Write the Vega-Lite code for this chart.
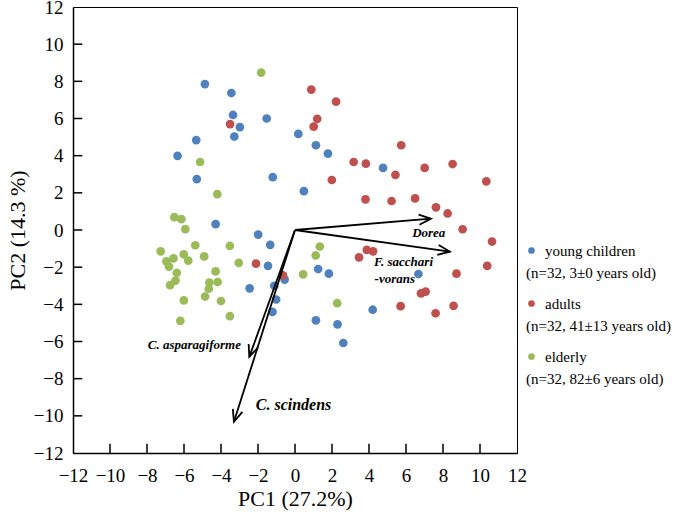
{
  "$schema": "https://vega.github.io/schema/vega-lite/v6.json",
  "width": 444,
  "height": 446,
  "autosize": "none",
  "padding": {"left": 73, "top": 7, "right": 160, "bottom": 68},
  "background": "white",
  "config": {
    "font": "Liberation Serif",
    "view": {"stroke": "black", "strokeWidth": 1},
    "axis": {
      "domainColor": "black", "domainWidth": 1.5,
      "labelFont": "Liberation Serif", "labelFontSize": 19, "labelColor": "black",
      "titleFont": "Liberation Serif", "titleFontSize": 22, "titleFontWeight": "normal", "titleColor": "black",
      "grid": false
    }
  },
  "resolve": {"axis": {"x": "independent", "y": "independent"}},
  "datasets": {
    "scores": [
      {"group": "young children", "pc1": -4.87, "pc2": 7.85},
      {"group": "young children", "pc1": -3.44, "pc2": 7.37},
      {"group": "young children", "pc1": -3.35, "pc2": 6.19},
      {"group": "young children", "pc1": -2.98, "pc2": 5.54},
      {"group": "young children", "pc1": -1.53, "pc2": 6.0},
      {"group": "young children", "pc1": -3.28, "pc2": 5.03},
      {"group": "young children", "pc1": -5.34, "pc2": 4.84},
      {"group": "young children", "pc1": 0.18, "pc2": 5.17},
      {"group": "young children", "pc1": 1.13, "pc2": 4.56},
      {"group": "young children", "pc1": 1.78, "pc2": 4.11},
      {"group": "young children", "pc1": -6.35, "pc2": 3.99},
      {"group": "young children", "pc1": -5.31, "pc2": 2.74},
      {"group": "young children", "pc1": -1.2, "pc2": 2.84},
      {"group": "young children", "pc1": 0.48, "pc2": 2.09},
      {"group": "young children", "pc1": -4.29, "pc2": 0.32},
      {"group": "young children", "pc1": 4.76, "pc2": 3.34},
      {"group": "young children", "pc1": -1.99, "pc2": -0.25},
      {"group": "young children", "pc1": -1.34, "pc2": -0.8},
      {"group": "young children", "pc1": -1.46, "pc2": -1.93},
      {"group": "young children", "pc1": 1.25, "pc2": -2.1},
      {"group": "young children", "pc1": 1.83, "pc2": -2.35},
      {"group": "young children", "pc1": -0.56, "pc2": -2.67},
      {"group": "young children", "pc1": -1.12, "pc2": -3.0},
      {"group": "young children", "pc1": -2.45, "pc2": -3.14},
      {"group": "young children", "pc1": -1.02, "pc2": -3.74},
      {"group": "young children", "pc1": -1.22, "pc2": -4.41},
      {"group": "young children", "pc1": 1.13, "pc2": -4.86},
      {"group": "young children", "pc1": 2.3, "pc2": -5.08},
      {"group": "young children", "pc1": 2.61, "pc2": -6.08},
      {"group": "young children", "pc1": 4.2, "pc2": -4.29},
      {"group": "young children", "pc1": 6.67, "pc2": -2.37},
      {"group": "adults", "pc1": 0.88, "pc2": 7.55},
      {"group": "adults", "pc1": 2.22, "pc2": 6.91},
      {"group": "adults", "pc1": -3.51, "pc2": 5.7},
      {"group": "adults", "pc1": 1.2, "pc2": 5.98},
      {"group": "adults", "pc1": 1.01, "pc2": 5.56},
      {"group": "adults", "pc1": 1.99, "pc2": 2.69},
      {"group": "adults", "pc1": 5.74, "pc2": 4.56},
      {"group": "adults", "pc1": 3.17, "pc2": 3.66},
      {"group": "adults", "pc1": 3.83, "pc2": 3.57},
      {"group": "adults", "pc1": 5.43, "pc2": 2.97},
      {"group": "adults", "pc1": 7.01, "pc2": 3.34},
      {"group": "adults", "pc1": 8.52, "pc2": 3.55},
      {"group": "adults", "pc1": 10.34, "pc2": 2.62},
      {"group": "adults", "pc1": 3.81, "pc2": 1.65},
      {"group": "adults", "pc1": 5.22, "pc2": 1.56},
      {"group": "adults", "pc1": 6.49, "pc2": 1.7},
      {"group": "adults", "pc1": 7.62, "pc2": 1.22},
      {"group": "adults", "pc1": 8.25, "pc2": 0.89},
      {"group": "adults", "pc1": 9.06, "pc2": 0.04},
      {"group": "adults", "pc1": 10.65, "pc2": -0.62},
      {"group": "adults", "pc1": -2.11, "pc2": -1.81},
      {"group": "adults", "pc1": -0.65, "pc2": -2.44},
      {"group": "adults", "pc1": 3.46, "pc2": -1.47},
      {"group": "adults", "pc1": 3.88, "pc2": -1.07},
      {"group": "adults", "pc1": 4.22, "pc2": -1.15},
      {"group": "adults", "pc1": 5.71, "pc2": -4.1},
      {"group": "adults", "pc1": 6.81, "pc2": -3.41},
      {"group": "adults", "pc1": 7.06, "pc2": -3.32},
      {"group": "adults", "pc1": 7.6, "pc2": -4.48},
      {"group": "adults", "pc1": 8.57, "pc2": -4.08},
      {"group": "adults", "pc1": 8.73, "pc2": -2.35},
      {"group": "adults", "pc1": 10.39, "pc2": -1.93},
      {"group": "elderly", "pc1": -1.83, "pc2": 8.47},
      {"group": "elderly", "pc1": -5.13, "pc2": 3.66},
      {"group": "elderly", "pc1": -4.2, "pc2": 1.93},
      {"group": "elderly", "pc1": -6.52, "pc2": 0.69},
      {"group": "elderly", "pc1": -6.14, "pc2": 0.58},
      {"group": "elderly", "pc1": -5.93, "pc2": 0.05},
      {"group": "elderly", "pc1": -5.39, "pc2": -0.82},
      {"group": "elderly", "pc1": -3.52, "pc2": -0.86},
      {"group": "elderly", "pc1": 1.34, "pc2": -0.89},
      {"group": "elderly", "pc1": -7.26, "pc2": -1.15},
      {"group": "elderly", "pc1": -6.01, "pc2": -1.31},
      {"group": "elderly", "pc1": -4.91, "pc2": -1.42},
      {"group": "elderly", "pc1": 1.12, "pc2": -1.37},
      {"group": "elderly", "pc1": -6.57, "pc2": -1.53},
      {"group": "elderly", "pc1": -6.95, "pc2": -1.69},
      {"group": "elderly", "pc1": -5.77, "pc2": -1.65},
      {"group": "elderly", "pc1": -6.81, "pc2": -1.97},
      {"group": "elderly", "pc1": -3.04, "pc2": -1.77},
      {"group": "elderly", "pc1": -6.39, "pc2": -2.3},
      {"group": "elderly", "pc1": -4.29, "pc2": -2.23},
      {"group": "elderly", "pc1": 0.44, "pc2": -2.39},
      {"group": "elderly", "pc1": -6.46, "pc2": -2.72},
      {"group": "elderly", "pc1": -4.63, "pc2": -2.83},
      {"group": "elderly", "pc1": -4.18, "pc2": -2.8},
      {"group": "elderly", "pc1": -6.75, "pc2": -2.97},
      {"group": "elderly", "pc1": -4.66, "pc2": -3.16},
      {"group": "elderly", "pc1": -4.86, "pc2": -3.58},
      {"group": "elderly", "pc1": -6.01, "pc2": -3.79},
      {"group": "elderly", "pc1": -4.0, "pc2": -3.82},
      {"group": "elderly", "pc1": 2.28, "pc2": -3.94},
      {"group": "elderly", "pc1": -3.52, "pc2": -4.64},
      {"group": "elderly", "pc1": -6.2, "pc2": -4.89}
    ],
    "cohorts": [
      {"group": "young children", "desc": "(n=32, 3±0 years old)"},
      {"group": "adults", "desc": "(n=32, 41±13 years old)"},
      {"group": "elderly", "desc": "(n=32, 82±6 years old)"}
    ],
    "loadings": [
      {"taxon": "Dorea", "pc1": 7.35, "pc2": 0.61},
      {"taxon": "F. saccharivorans", "pc1": 8.37, "pc2": -1.16},
      {"taxon": "C. scindens", "pc1": -3.3, "pc2": -10.32},
      {"taxon": "C. asparagiforme", "pc1": -2.47, "pc2": -6.83}
    ],
    "tickvals": [
      {"v": -10}, {"v": -8}, {"v": -6}, {"v": -4}, {"v": -2}, {"v": 0},
      {"v": 2}, {"v": 4}, {"v": 6}, {"v": 8}, {"v": 10}
    ]
  },
  "layer": [
    {
      "data": {"name": "scores"},
      "transform": [
        {"lookup": "group", "from": {"data": {"name": "cohorts"}, "key": "group", "fields": ["desc"]}}
      ],
      "mark": {"type": "point", "filled": true, "size": 76, "shape": "circle"},
      "encoding": {
        "x": {"field": "pc1", "type": "quantitative",
              "scale": {"domain": [-12, 12], "nice": false, "zero": false},
              "axis": {"values": [-12, -10, -8, -6, -4, -2, 0, 2, 4, 6, 8, 10, 12], "title": "PC1 (27.2%)",
                       "labelOverlap": false, "labelFlush": false,
                       "ticks": false, "labelPadding": 13, "titlePadding": 3}},
        "y": {"field": "pc2", "type": "quantitative",
              "scale": {"domain": [-12, 12], "nice": false, "zero": false},
              "axis": {"values": [-12, -10, -8, -6, -4, -2, 0, 2, 4, 6, 8, 10, 12], "title": "PC2 (14.3 %)",
                       "labelOverlap": false, "labelFlush": false,
                       "ticks": false, "labelPadding": 10, "titlePadding": 4}},
        "color": {"field": "group", "type": "nominal",
                  "scale": {"domain": ["young children", "adults", "elderly"], "range": ["#4F81BD", "#C0504D", "#9BBB59"]},
                  "legend": {
                    "title": null, "orient": "none", "legendX": 451, "legendY": 236,
                    "symbolType": "circle", "symbolSize": 45, "symbolStrokeWidth": 0, "symbolOpacity": 1,
                    "labelFont": "Liberation Serif", "labelFontSize": 15, "labelColor": "black",
                    "labelLimit": 0, "labelOffset": 6, "rowPadding": 37, "padding": 0
                  }},
        "opacity": {"field": "desc", "type": "nominal",
                  "scale": {"domain": ["(n=32, 3±0 years old)", "(n=32, 41±13 years old)", "(n=32, 82±6 years old)"], "range": [1, 1, 1]},
                  "legend": {
                    "title": null, "orient": "none", "legendX": 438, "legendY": 258,
                    "symbolSize": 0, "symbolFillColor": "white", "symbolStrokeColor": "white", "symbolStrokeWidth": 0,
                    "labelFont": "Liberation Serif", "labelFontSize": 15, "labelColor": "black",
                    "labelLimit": 0, "labelOffset": 0, "rowPadding": 37, "padding": 0
                  }}
      }
    },
    {
      "data": {"name": "tickvals"},
      "mark": {"type": "rule", "color": "black", "strokeWidth": 1.5},
      "encoding": {
        "x": {"field": "v", "type": "quantitative", "axis": null},
        "y": {"datum": -12, "type": "quantitative", "axis": null},
        "y2": {"datum": -11.5}
      }
    },
    {
      "data": {"name": "tickvals"},
      "mark": {"type": "rule", "color": "black", "strokeWidth": 1.5},
      "encoding": {
        "y": {"field": "v", "type": "quantitative", "axis": null},
        "x": {"datum": -12, "type": "quantitative", "axis": null},
        "x2": {"datum": -11.5}
      }
    },
    {
      "data": {"name": "loadings"},
      "mark": {"type": "rule", "color": "black", "strokeWidth": 1.8},
      "encoding": {
        "x": {"field": "pc1", "type": "quantitative", "axis": null},
        "y": {"field": "pc2", "type": "quantitative", "axis": null},
        "x2": {"datum": 0},
        "y2": {"datum": 0}
      }
    },
    {
      "data": {"name": "loadings"},
      "mark": {"type": "point", "shape": "M -0.42 1 L 0 0 L 0.42 1", "filled": false, "size": 576,
               "color": "black", "strokeWidth": 1.8, "opacity": 1,
               "angle": {"expr": "atan2(datum.pc1, datum.pc2) * 180 / PI"}},
      "encoding": {
        "x": {"field": "pc1", "type": "quantitative", "axis": null},
        "y": {"field": "pc2", "type": "quantitative", "axis": null}
      }
    },
    {
      "data": {"values": [
        {"label": "Dorea", "pc1": 7.23, "pc2": -0.15},
        {"label": "C. asparagiforme", "pc1": -5.44, "pc2": -6.21}
      ]},
      "mark": {"type": "text", "font": "Liberation Serif", "fontSize": 13, "fontWeight": "bold", "fontStyle": "italic", "align": "center", "baseline": "middle", "color": "black"},
      "encoding": {
        "x": {"field": "pc1", "type": "quantitative", "axis": null},
        "y": {"field": "pc2", "type": "quantitative", "axis": null},
        "text": {"field": "label"}
      }
    },
    {
      "data": {"values": [
        {"label": "F. sacchari", "pc1": 4.27, "pc2": -1.72},
        {"label": "-vorans", "pc1": 4.3, "pc2": -2.62}
      ]},
      "mark": {"type": "text", "font": "Liberation Serif", "fontSize": 13, "fontWeight": "bold", "fontStyle": "italic", "align": "left", "baseline": "middle", "color": "black"},
      "encoding": {
        "x": {"field": "pc1", "type": "quantitative", "axis": null},
        "y": {"field": "pc2", "type": "quantitative", "axis": null},
        "text": {"field": "label"}
      }
    },
    {
      "data": {"values": [
        {"label": "C. scindens", "pc1": -0.08, "pc2": -9.44}
      ]},
      "mark": {"type": "text", "font": "Liberation Serif", "fontSize": 16, "fontWeight": "bold", "fontStyle": "italic", "align": "center", "baseline": "middle", "color": "black"},
      "encoding": {
        "x": {"field": "pc1", "type": "quantitative", "axis": null},
        "y": {"field": "pc2", "type": "quantitative", "axis": null},
        "text": {"field": "label"}
      }
    }
  ]
}
